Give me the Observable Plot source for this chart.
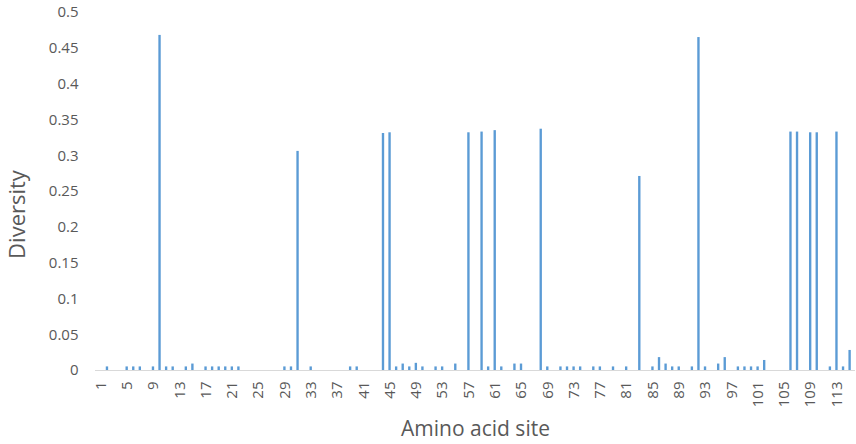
<!DOCTYPE html>
<html>
<head>
<meta charset="utf-8">
<script src="https://cdn.jsdelivr.net/npm/d3@7"></script>
<script src="https://cdn.jsdelivr.net/npm/@observablehq/plot@0.6"></script>
<style>
  html, body { margin: 0; padding: 0; background: #fff; }
  #chart svg { display: block; }
</style>
</head>
<body>
<div id="chart"></div>
<script>
// Amino acid sites (categories) 1..115
const sites = d3.range(1, 116);
// Sites that have a visible diversity bar, and their values
const barSites = [2, 5, 6, 7, 9, 10, 11, 12, 14, 15, 17, 18, 19, 20, 21, 22,
  29, 30, 31, 33, 39, 40, 44, 45, 46, 47, 48, 49, 50, 52, 53, 55,
  57, 59, 60, 61, 62, 64, 65, 68, 69, 71, 72, 73, 74, 76, 77, 79, 81, 83,
  85, 86, 87, 88, 89, 91, 92, 93, 95, 96, 98, 99, 100, 101, 102,
  106, 107, 109, 110, 112, 113, 114, 115];
const barValues = [0.005, 0.005, 0.005, 0.005, 0.005, 0.468, 0.005, 0.005, 0.005, 0.009, 0.005, 0.005, 0.005, 0.005, 0.005, 0.005,
  0.005, 0.005, 0.306, 0.005, 0.005, 0.005, 0.331, 0.332, 0.005, 0.009, 0.005, 0.01, 0.005, 0.005, 0.005, 0.009,
  0.332, 0.333, 0.005, 0.335, 0.005, 0.009, 0.009, 0.337, 0.005, 0.005, 0.005, 0.005, 0.005, 0.005, 0.005, 0.005, 0.005, 0.271,
  0.005, 0.018, 0.009, 0.005, 0.005, 0.005, 0.465, 0.005, 0.009, 0.018, 0.005, 0.005, 0.005, 0.005, 0.014,
  0.333, 0.333, 0.332, 0.332, 0.005, 0.333, 0.005, 0.028];
const xTickLabels = [1, 5, 9, 13, 17, 21, 25, 29, 33, 37, 41, 45, 49, 53, 57, 61, 65, 69, 73, 77, 81, 85, 89, 93, 97, 101, 105, 109, 113];
const yTickLabels = [0, 0.05, 0.1, 0.15, 0.2, 0.25, 0.3, 0.35, 0.4, 0.45, 0.5];
const xTitle = "Amino acid site";
const yTitle = "Diversity";

const data = barSites.map((s, i) => ({site: s, value: barValues[i]}));

const textColor = "#595959";
const fontFamily = "'Open Sans', 'Liberation Sans', sans-serif";

const chart = Plot.plot({
  width: 856,
  height: 444,
  marginTop: 12,
  marginBottom: 74,
  marginLeft: 95,
  marginRight: 1,
  style: {fontFamily, fontSize: "14px", color: textColor, background: "#fff"},
  x: {type: "band", domain: sites, padding: 0.64, align: 0.5},
  y: {domain: [0, 0.5]},
  marks: [
    Plot.barY(data, {x: "site", y: "value", fill: "#5B9BD5"}),
    Plot.ruleY([0], {stroke: "#D9D9D9", strokeWidth: 1}),
    Plot.axisY({ticks: yTickLabels, tickSize: 0, tickPadding: 17, label: null,
      tickFormat: d => String(d), fill: textColor, fontSize: 15}),
    Plot.axisX({ticks: xTickLabels, tickSize: 0, tickPadding: 11, tickRotate: -90, label: null,
      tickFormat: d => String(d), fill: textColor, fontSize: 15}),
    Plot.text([xTitle], {frameAnchor: "bottom", lineAnchor: "middle", textAnchor: "middle", dy: 59,
      fontSize: 21, fill: textColor, text: d => d}),
    Plot.text([yTitle], {frameAnchor: "left", textAnchor: "middle", lineAnchor: "middle", dx: -78, dy: 23,
      rotate: -90, fontSize: 22, fill: textColor, text: d => d})
  ]
});
document.getElementById("chart").appendChild(chart);
</script>
</body>
</html>
